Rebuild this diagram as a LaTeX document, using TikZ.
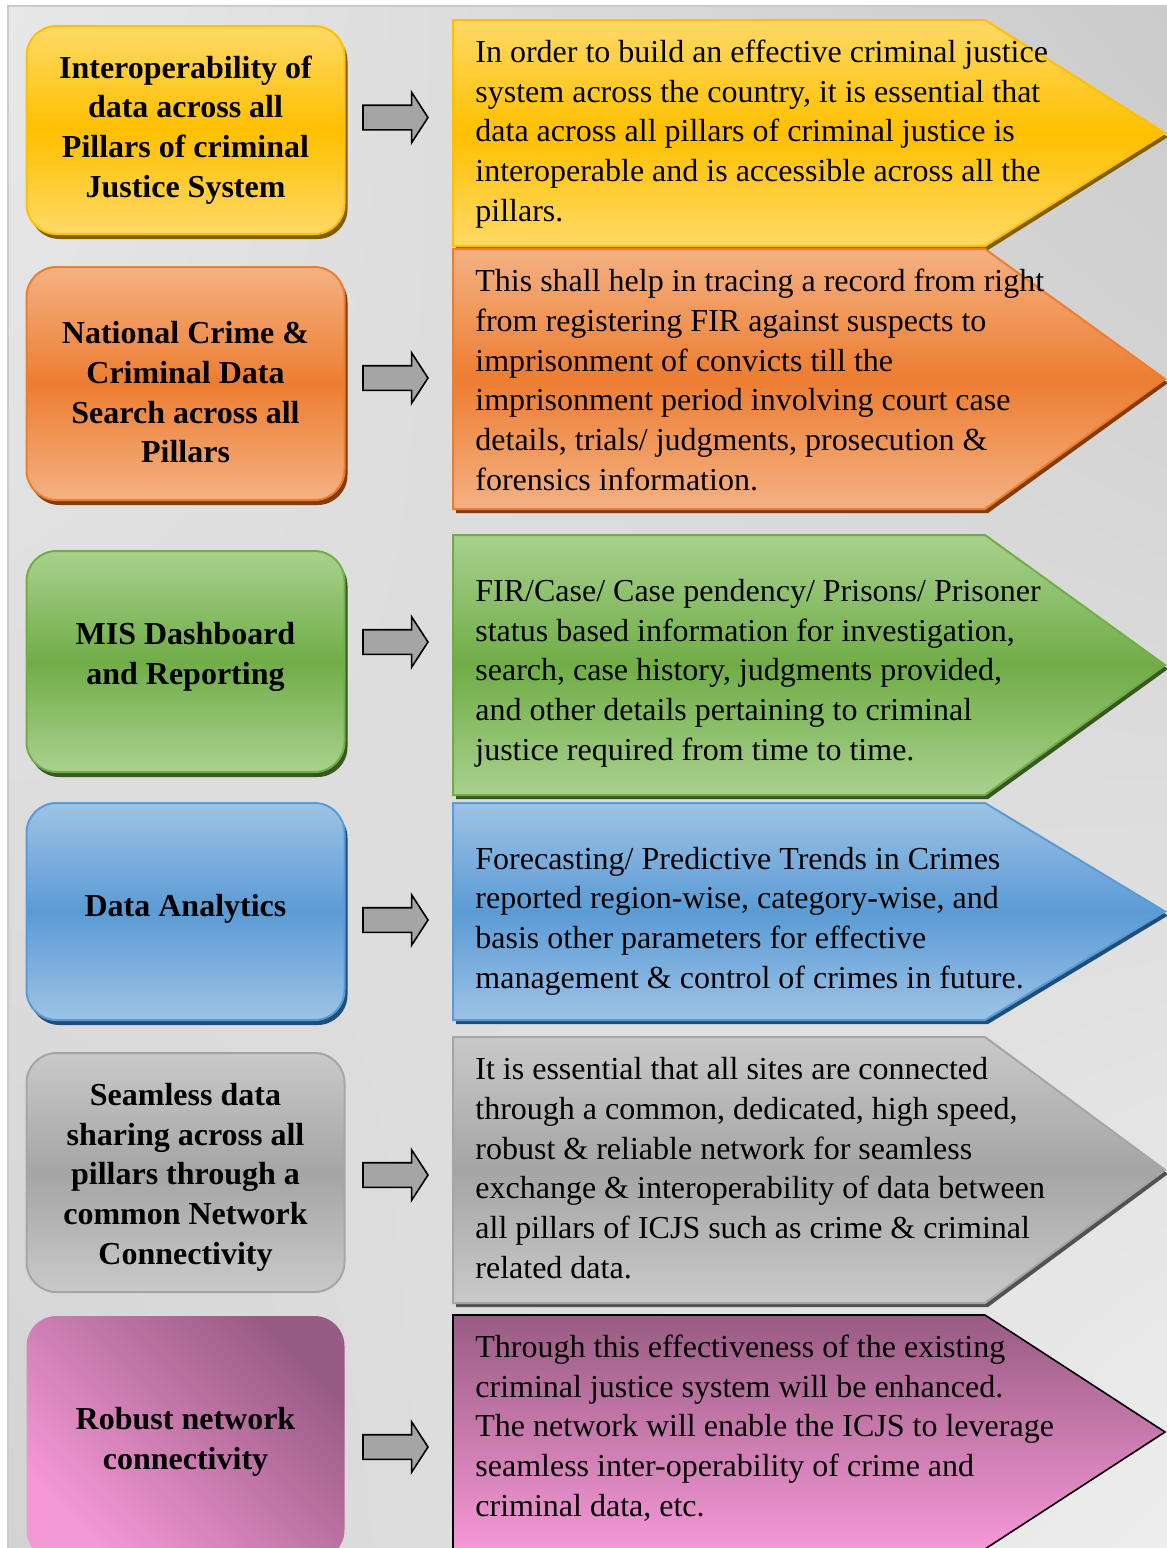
\documentclass[tikz,border=0pt]{standalone}
\usepackage{fontspec}
\setmainfont{Liberation Serif}
\usetikzlibrary{shapes.arrows,shadows,shadings}

\definecolor{ylwL}{HTML}{FFD966}
\definecolor{ylwM}{HTML}{FFC000}
\definecolor{ylwS}{HTML}{7F6000}
\definecolor{orgL}{HTML}{F4B183}
\definecolor{orgM}{HTML}{ED7D31}
\definecolor{orgS}{HTML}{843C0C}
\definecolor{grnL}{HTML}{A9D18E}
\definecolor{grnM}{HTML}{70AD47}
\definecolor{grnS}{HTML}{385723}
\definecolor{bluL}{HTML}{9DC3E6}
\definecolor{bluM}{HTML}{5B9BD5}
\definecolor{bluS}{HTML}{1F4E79}
\definecolor{gryL}{HTML}{C9C9C9}
\definecolor{gryM}{HTML}{A5A5A5}
\definecolor{gryS}{HTML}{525252}
\definecolor{pnkL}{HTML}{F598D6}
\definecolor{pnkD}{HTML}{985B83}
\definecolor{bgA}{HTML}{E8E8E8}
\definecolor{bgB}{HTML}{CBCBCB}
\definecolor{bgC}{HTML}{D3D3D3}
\definecolor{bgD}{HTML}{EEEEEE}

\tikzset{
  pillar/.style={rounded corners=15pt, minimum width=159pt, align=center,
    font=\bfseries\fontsize{16}{19.85}\selectfont, line width=1pt},
  detail/.style={anchor=west, align=left, inner sep=0pt,
    font=\fontsize{16}{19.85}\selectfont},
  blockarr/.style={single arrow, draw=black, fill=gryM, line width=0.8pt,
    minimum height=32.5pt, single arrow head extend=6.5pt,
    single arrow tip angle=114, inner xsep=0pt, inner ysep=5.75pt},
  flat/.style={drop shadow={opacity=1, fill=#1, shadow xshift=1.5pt, shadow yshift=-2.5pt}}
}

% tag shape: top, bottom, light, middle, border, shadow
\newcommand{\infotag}[6]{%
  \fill[#6] (456,#1+4) -- (988,#1+4) -- (1168,{(#1+#2)/2+4}) -- (988,#2+4) -- (456,#2+4) -- cycle;
  \draw[#5, line width=1pt, top color=#3, bottom color=#3, middle color=#4]
    (453,#1) -- (985,#1) -- (1165,{(#1+#2)/2}) -- (985,#2) -- (453,#2) -- cycle;
}

\begin{document}
\begin{tikzpicture}[x=0.5pt,y=-0.5pt]
\useasboundingbox (0,0) rectangle (1167,1548);
\fill[white] (0,0) rectangle (1167,1548);
\shade[upper left=bgA, upper right=bgB, lower left=bgC, lower right=bgD] (8,6) rectangle (1170,1555);
\draw[bgB, line width=1pt] (8,1555) -- (8,6) -- (1170,6);

% right hand tags
\infotag{20}{246}{ylwL}{ylwM}{ylwM}{ylwS}
\infotag{249}{509}{orgL}{orgM}{orgM}{orgS}
\infotag{535}{795}{grnL}{grnM}{grnM}{grnS}
\infotag{803}{1020}{bluL}{bluM}{bluM}{bluS}
\infotag{1037}{1303}{gryL}{gryM}{gryM}{gryS}
\draw[black, line width=0.8pt, top color=pnkD, bottom color=pnkL]
  (453,1315) -- (985,1315) -- (1165,1432) -- (985,1549) -- (453,1549) -- cycle;

% left hand pillars
\node[pillar, draw=ylwM, top color=ylwL, bottom color=ylwL, middle color=ylwM,
  minimum height=104pt, flat=ylwS] (p1) at (185.5,130)
  {Interoperability of\\data across all\\Pillars of criminal\\Justice System};
\node[pillar, draw=orgM, top color=orgL, bottom color=orgL, middle color=orgM,
  minimum height=116.5pt, flat=orgS] (p2) at (185.5,383.5)
  {\rule{0pt}{19.8pt}National Crime \&\\Criminal Data\\Search across all\\Pillars};
\node[pillar, draw=grnM, top color=grnL, bottom color=grnL, middle color=grnM,
  minimum height=110.5pt, flat=grnS] (p3) at (185.5,661.5)
  {MIS Dashboard\\and Reporting\rule[-8pt]{0pt}{0pt}};
\node[pillar, draw=bluM, top color=bluL, bottom color=bluL, middle color=bluM,
  minimum height=108.5pt, flat=bluS] (p4) at (185.5,911.5)
  {Data Analytics\rule[-6.5pt]{0pt}{0pt}};
\node[pillar, draw=gryM, top color=gryL, bottom color=gryL, middle color=gryM,
  minimum height=119.5pt] (p5) at (185.5,1172.5)
  {\rule{0pt}{15.8pt}Seamless data\\sharing across all\\pillars through a\\common Network\\Connectivity};
\node[pillar, top color=pnkD, bottom color=pnkL, shading angle=-45,
  minimum height=122pt] (p6) at (185.5,1438)
  {\rule{0pt}{14.8pt}Robust network\\connectivity};

% arrows between them
\node[blockarr] (a1) at (391.5,117.5) {};
\node[blockarr] (a2) at (391.5,378) {};
\node[blockarr] (a3) at (391.5,642) {};
\node[blockarr] (a4) at (391.5,920) {};
\node[blockarr] (a5) at (391.5,1175) {};
\node[blockarr] (a6) at (391.5,1447) {};

% texts of the tags
\node[detail] (d1) at (475,134) {In order to build an effective criminal justice\\
  system across the country, it is essential that\\
  data across all pillars of criminal justice is\\
  interoperable and is accessible across all the\\
  pillars.};
\node[detail] (d2) at (475,380) {This shall help in tracing a record from right\\
  from registering FIR against suspects to\\
  imprisonment of convicts till the\\
  imprisonment period involving court case\\
  details, trials/ judgments, prosecution \&\\
  forensics information.};
\node[detail] (d3) at (475,673) {FIR/Case/ Case pendency/ Prisons/ Prisoner\\
  status based information for investigation,\\
  search, case history, judgments provided,\\
  and other details pertaining to criminal\\
  justice required from time to time.};
\node[detail] (d4) at (475,921) {Forecasting/ Predictive Trends in Crimes\\
  reported region-wise, category-wise, and\\
  basis other parameters for effective\\
  management \& control of crimes in future.};
\node[detail] (d5) at (475,1168) {It is essential that all sites are connected\\
  through a common, dedicated, high speed,\\
  robust \& reliable network for seamless\\
  exchange \& interoperability of data between\\
  all pillars of ICJS such as crime \& criminal\\
  related data.};
\node[detail] (d6) at (475,1428) {Through this effectiveness of the existing\\
  criminal justice system will be enhanced.\\
  The network will enable the ICJS to leverage\\
  seamless inter-operability of crime and\\
  criminal data, etc.};
\end{tikzpicture}
\end{document}
